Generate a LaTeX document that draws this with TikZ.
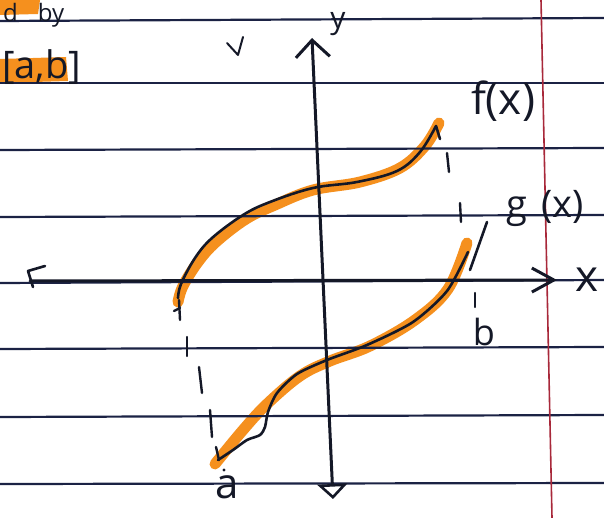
\documentclass[tikz,border=0pt]{standalone}
\usepackage{fontspec}
\setmainfont{Open Sans}
\usetikzlibrary{arrows.meta}
\definecolor{ink}{HTML}{141827}
\definecolor{rulecol}{HTML}{1B2244}
\definecolor{hl}{HTML}{F5901E}
\definecolor{margincol}{HTML}{A8283A}
\tikzset{
  notebook/.style={rulecol, line width=2.2pt},
  inkline/.style={ink, line width=2.6pt, line cap=round, line join=round},
  axisline/.style={ink, line width=3pt, line cap=round, line join=round},
  highlight/.style={hl, line width=11pt, line cap=round, line join=round},
  dashmark/.style={ink, line width=2.4pt, line cap=round},
  hand/.style={ink, inner sep=0pt, font=\fontsize{36}{40}\selectfont},
}
\begin{document}
\begin{tikzpicture}[x=1pt,y=-1pt]
\clip (0,0) rectangle (604,518);
\fill[white] (0,0) rectangle (604,518);

% highlighter marks
\fill[hl] (0,0) -- (40,0) -- (38,14) -- (0,15) -- cycle;
\fill[hl] (0,59) -- (66,57) -- (68,81) -- (0,83) -- cycle;
\draw[highlight] plot[smooth, tension=0.6] coordinates {(178,302) (183,286) (198,262) (216,242) (246,219) (275,205) (313,190) (360,182) (400,168) (425,146) (439,123)};
\draw[highlight] plot[smooth, tension=0.6] coordinates {(215,464) (243,430) (267,404) (300,376) (330,361) (370,346) (415,320) (448,289) (467,243)};

% notebook lines
\foreach \ya/\yb in {21/18, 83/83, 150/148, 217/215, 283/280, 349/347, 417/415, 484/483}
  \draw[notebook] (0,\ya) -- (604,\yb);
\draw[margincol, line width=1.6pt] (541,0) -- (552,518);

% axes
\coordinate (ytop) at (312,38);
\coordinate (ybot) at (333,499);
\draw[axisline, {Triangle[open, length=15pt, width=30pt, line width=2.6pt]}-{Straight Barb[length=17pt, width=34pt]}] (ybot) -- (ytop);
\coordinate (xleft) at (30,281);
\coordinate (xright) at (557,280);
\draw[axisline, -{Straight Barb[length=22pt, width=24pt]}] (xleft) -- (xright);
\draw[inkline] (45,266) -- (28,271) -- (33,287);

% curves
\coordinate (fstart) at (178,298);
\coordinate (fend) at (436,126);
\draw[inkline] plot[smooth, tension=0.6] coordinates {(fstart) (181,284) (195,258) (212,238) (243,215) (270,202) (313,188) (357,182) (397,171) (420,152) (fend)};
\draw[inkline] (fend) -- (440,139);
\coordinate (gstart) at (218,460);
\coordinate (gend) at (468,252);
\draw[inkline] plot[smooth, tension=0.45] coordinates {(gstart) (233,450) (247,440) (260,435) (265,427) (268,412) (277,393) (297,374) (327,360) (367,345) (413,322) (447,291) (gend)};
\draw[inkline] (470,270) -- (487,222);

% dashed drop lines
\draw[dashmark] (179,300) -- (180,320);
\draw[dashmark] (174,311) -- (180,308);
\draw[dashmark] (187,337) -- (187,356);
\draw[dashmark] (199,367) -- (202,393);
\draw[dashmark] (210,410) -- (212,437);
\draw[dashmark] (216,447) -- (219,460);
\fill[ink] (224,470) circle (1.6pt);
\draw[dashmark] (447,153) -- (449,172);
\draw[dashmark] (460,203) -- (461,222);
\draw[dashmark] (475,293) -- (475,307);

% tick mark
\draw[ink, line width=2pt, line cap=round, line join=round] (227,43) -- (238,55) -- (243,37);

% labels
\node[hand, font=\fontsize{44}{46}\selectfont] (flab) at (503,101) {f(x)};
\node[hand, font=\fontsize{38}{40}\selectfont] (glab) at (545,209) {g\hspace{14pt}(x)};
\node[hand, font=\fontsize{30}{34}\selectfont] (ylab) at (338,24) {y};
\node[hand, font=\fontsize{44}{46}\selectfont] (xlab) at (587,280) {x};
\node[hand, font=\fontsize{42}{44}\selectfont] (alab) at (227,487) {a};
\node[hand, font=\fontsize{36}{38}\selectfont] (blab) at (484,332) {b};
\node[hand, font=\fontsize{24}{28}\selectfont, anchor=base west] (bytext) at (3,22) {d\hspace{20pt}by};
\node[hand, font=\fontsize{38}{40}\selectfont, anchor=base west] (abtext) at (2,79) {[a,b]};
\end{tikzpicture}
\end{document}
